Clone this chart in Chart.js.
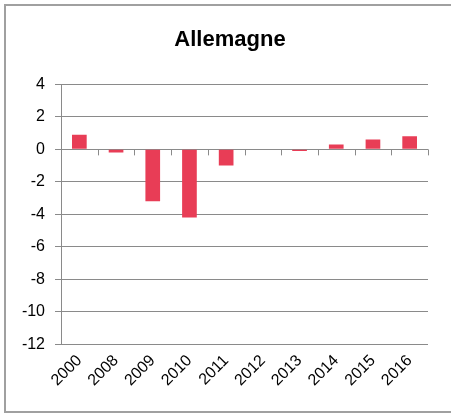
<!DOCTYPE html>
<html>
<head>
<meta charset="utf-8">
<script src="https://cdn.jsdelivr.net/npm/chart.js@4"></script>
<style>
  html, body { margin: 0; padding: 0; background: #fff; }
  #frame { position: absolute; left: 4px; top: 4px; width: 460px; height: 405px; border: 2px solid #a0a0a0; }
  #wrap { position: absolute; left: 0; top: 0; width: 451px; height: 413px; }
</style>
</head>
<body>
<div id="frame"></div>
<div id="wrap"><canvas id="germanyChart"></canvas></div>
<script>
const years = ['2000', '2008', '2009', '2010', '2011', '2012', '2013', '2014', '2015', '2016'];
const values = [0.9, -0.2, -3.2, -4.2, -1.0, 0, -0.1, 0.3, 0.6, 0.8];
const yMin = -12;
const yMax = 4;
const yStep = 2;

const gridGray = '#8a8a8a';

// tick marks on the zero line, between categories
const zeroTicks = {
    id: 'zeroTicks',
    afterLayout(chart) {
        // center the title on the whole frame, not the padded box
        if (chart.titleBlock) {
            chart.titleBlock.left = 0;
            chart.titleBlock.right = 460;
        }
    },
    afterDatasetsDraw(chart) {
        const x = chart.scales.x;
        const y0 = chart.scales.y.getPixelForValue(0);
        const ctx = chart.ctx;
        const n = years.length;
        ctx.save();
        ctx.strokeStyle = gridGray;
        ctx.lineWidth = 1;
        ctx.beginPath();
        for (let i = 0; i <= n; i++) {
            const px = Math.round(x.left + i * (x.right - x.left) / n) + 0.5;
            ctx.moveTo(px, y0);
            ctx.lineTo(px, y0 + 6);
        }
        ctx.stroke();
        ctx.restore();
    }
};

const ctx = document.getElementById('germanyChart').getContext('2d');
new Chart(ctx, {
    type: 'bar',
    data: {
        labels: years,
        datasets: [{
            data: values,
            backgroundColor: '#e83d56',
            borderWidth: 0,
            categoryPercentage: 1,
            barPercentage: 0.4
        }]
    },
    options: {
        responsive: true,
        maintainAspectRatio: false,
        animation: false,
        layout: { padding: { top: 9, right: 23, bottom: 16, left: 0 } },
        plugins: {
            legend: { display: false },
            tooltip: { enabled: false },
            title: {
                display: true,
                text: 'Allemagne',
                color: '#000',
                font: { family: 'Liberation Sans, Arial, sans-serif', size: 22, weight: 'bold' },
                padding: { top: 18, bottom: 31 }
            }
        },
        scales: {
            x: {
                position: 'bottom',
                offset: true,
                grid: { display: true, drawOnChartArea: false, drawTicks: false, offset: true },
                border: { display: false },
                ticks: {
                    color: '#000',
                    font: { family: 'Liberation Sans, Arial, sans-serif', size: 16 },
                    minRotation: 45,
                    maxRotation: 45,
                    padding: 7
                }
            },
            y: {
                min: yMin,
                max: yMax,
                afterFit(scale) { scale.width = 61; },
                grid: { color: gridGray, lineWidth: 1, tickLength: 6 },
                border: { display: true, color: gridGray },
                ticks: {
                    stepSize: yStep,
                    color: '#000',
                    padding: 10,
                    font: { family: 'Liberation Sans, Arial, sans-serif', size: 16 }
                }
            }
        }
    },
    plugins: [zeroTicks]
});
</script>
</body>
</html>
